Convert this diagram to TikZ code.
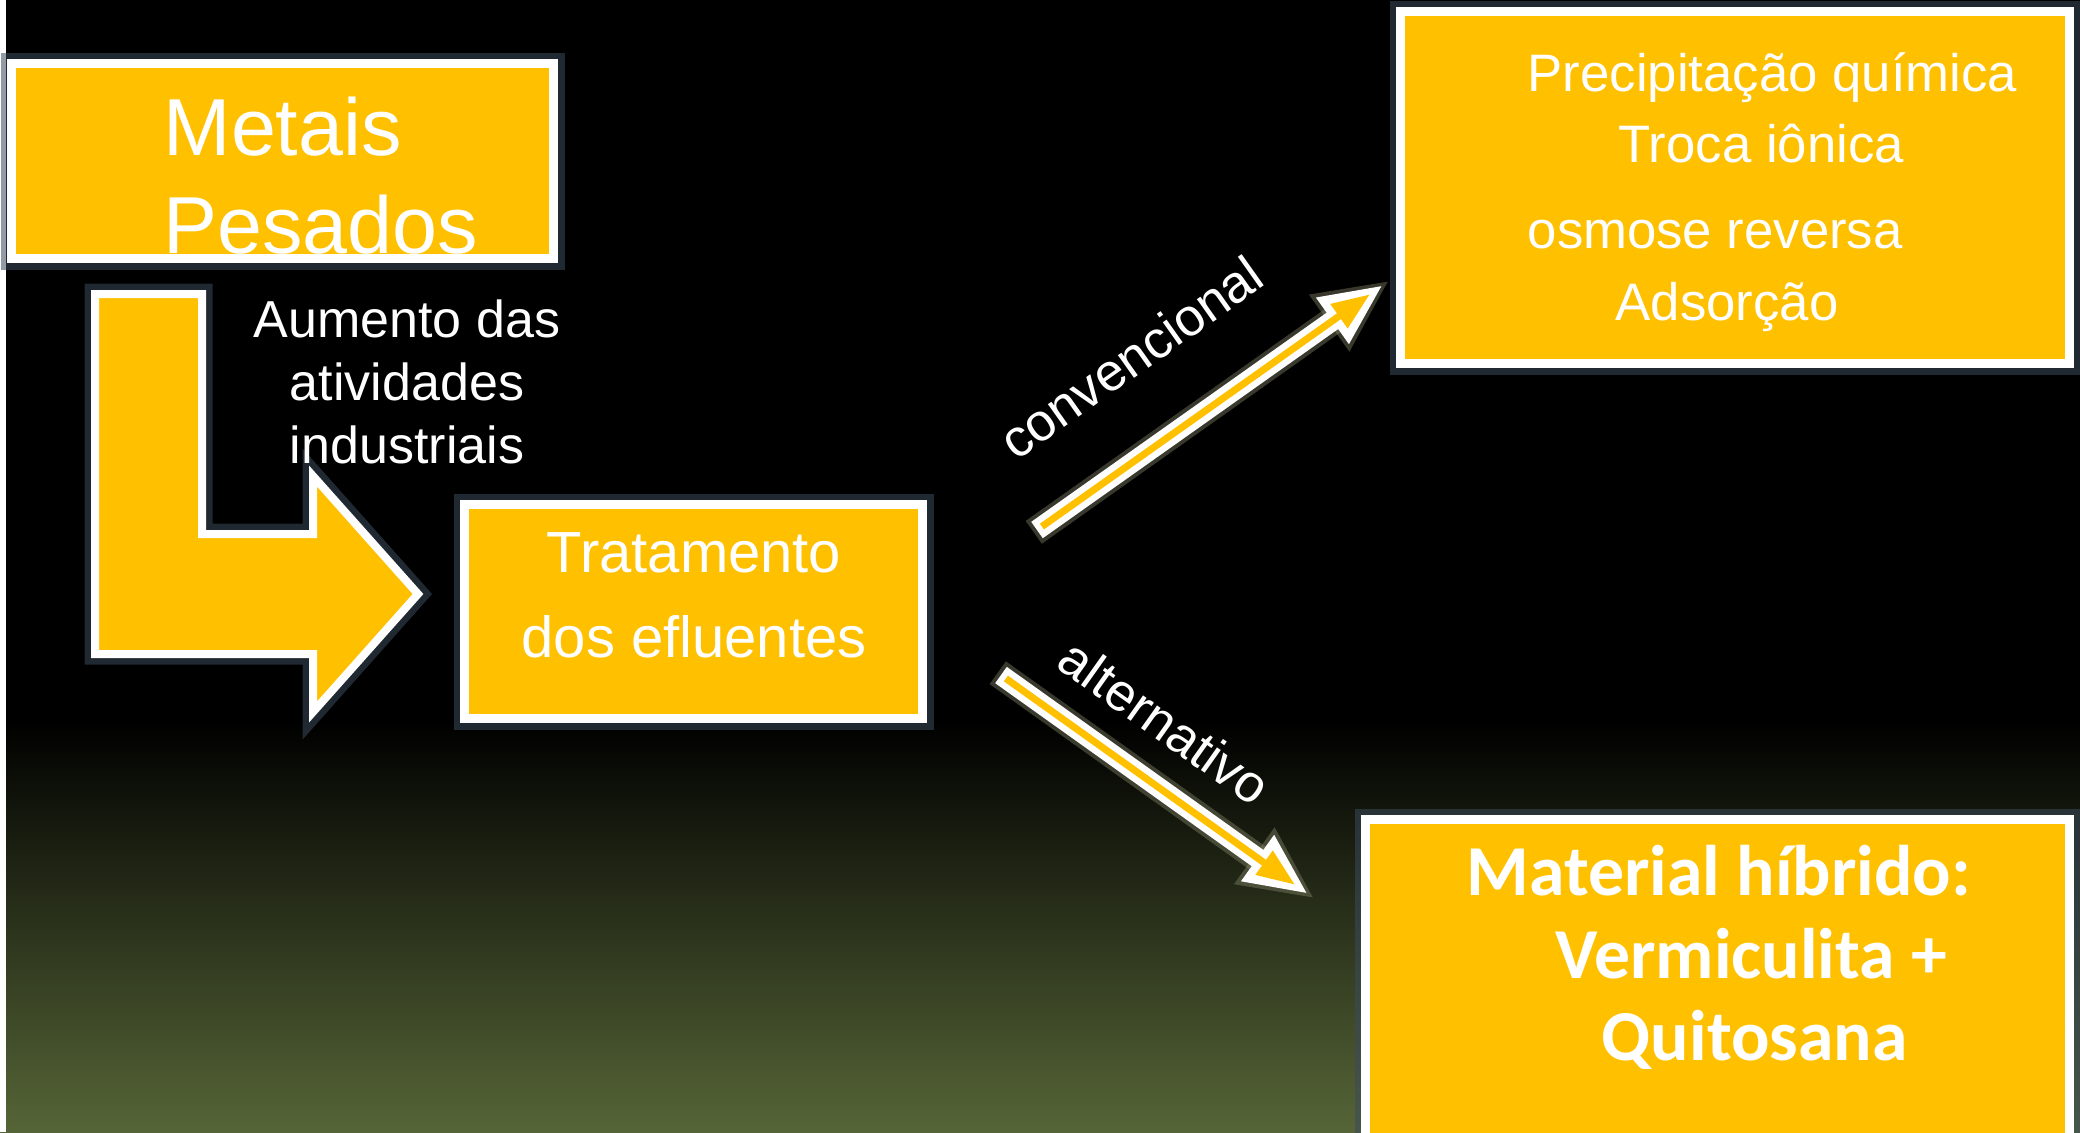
\documentclass[tikz,border=0pt]{standalone}
\usepackage{fontspec}
\setmainfont{Liberation Sans}
\newfontfamily\calibri{Carlito}
\usetikzlibrary{arrows.meta,fit}

\definecolor{gold}{HTML}{FFC000}
\definecolor{olivebg}{HTML}{566537}
\definecolor{glowblue}{HTML}{3B4A5C}
\definecolor{glowolive}{HTML}{8C8C6E}

\tikzset{
  box/.style={draw=white, fill=gold, line width=0.9mm, inner sep=0pt,
    preaction={draw=glowblue, line width=2.2mm, opacity=.55}},
  larrow/.style={draw=white, fill=gold, line width=0.8mm, line join=miter,
    preaction={draw=glowblue, line width=2.1mm, opacity=.55}},
  glowline/.style={draw=glowolive, line width=2.8mm, opacity=.4, shorten >=-0.8mm,
    shorten <=-0.4mm, -{Triangle[length=7.4mm,width=6.4mm]}},
  outline/.style={draw=white, line width=2mm,
    -{Triangle[length=6.2mm,width=5.2mm]}},
  core/.style={draw=gold, line width=0.7mm, shorten >=1.6mm, shorten <=0.6mm,
    -{Triangle[length=3.8mm,width=2.8mm]}},
  bigtxt/.style={text=white, inner sep=0pt, font=\fontsize{23}{28}\selectfont},
  midtxt/.style={text=white, inner sep=0pt, font=\fontsize{16.5}{24}\selectfont},
  smalltxt/.style={text=white, inner sep=0pt, font=\fontsize{15}{20}\selectfont},
  hybtxt/.style={text=white, inner sep=0pt, font=\calibri\bfseries\fontsize{20.4}{24}\selectfont}
}

\begin{document}
\begin{tikzpicture}[x=0.1mm, y=-0.1mm]
\path[use as bounding box] (0,0) rectangle (2080,1132);
\clip (0,0) rectangle (2080,1132);

% background
\fill[black] (0,0) rectangle (2080,725);
\shade[top color=black, bottom color=olivebg] (0,720) rectangle (2080,1132);
\fill[white] (0,0) rectangle (6,1132);

% boxes
\node[box, fit={(11.5,63.5) (553.5,258.5)}] (metais) {};
\node[box, fit={(464.5,504.5) (922.5,718.5)}] (trat) {};
\node[box, fit={(1400.5,11.5) (2069.5,363.5)}] (conv) {};
\node[box, fit={(1365.5,819.5) (2069.5,1160)}] (alt) {};

% bent arrow
\draw[larrow] (95,294) -- (202,294) -- (202,534) -- (313,534) -- (313,476)
  -- (418,594) -- (313,712) -- (313,654) -- (95,654) -- cycle;

\node[bigtxt, anchor=base west] (met1) at (163,155) {Metais};
\node[bigtxt, anchor=base west] (met2) at (163,253) {Pesados};

\node[smalltxt, font=\fontsize{14.8}{18}\selectfont, anchor=base] (aum1) at (407,337) {Aumento das};
\node[smalltxt, font=\fontsize{14.8}{18}\selectfont, anchor=base] (aum2) at (407,400) {atividades};
\node[smalltxt, font=\fontsize{14.8}{18}\selectfont, anchor=base] (aum3) at (407,463) {industriais};

\node[midtxt, anchor=base] (trat1) at (694,572) {Tratamento};
\node[midtxt, anchor=base] (trat2) at (694,657) {dos efluentes};

\node[smalltxt, anchor=base west] (conv1) at (1527,91) {Precipitação química};
\node[smalltxt, anchor=base west] (conv2) at (1618,162) {Troca iônica};
\node[smalltxt, anchor=base west] (conv3) at (1527,248) {osmose reversa};
\node[smalltxt, anchor=base west] (conv4) at (1615,320) {Adsorção};

\node[hybtxt, anchor=base west] (alt1) at (1466,895) {Material híbrido:};
\node[hybtxt, anchor=base west] (alt2) at (1555,978) {Vermiculita +};
\node[hybtxt, anchor=base west] (alt3) at (1601,1060) {Quitosana};

% connectors
\coordinate (convtail) at (1037,530);
\coordinate (convtip) at (1383,285);
\coordinate (alttail) at (1001,675);
\coordinate (alttip) at (1308,894);
\foreach \a/\b in {convtail/convtip, alttail/alttip}{
  \draw[glowline] (\a) -- (\b);
  \draw[outline] (\a) -- (\b);
  \draw[core] (\a) -- (\b);
}

\node[smalltxt, rotate=35.3] (convlab) at (1131,357) {convencional};
\node[smalltxt, rotate=-35.4] (altlab) at (1165,722) {alternativo};
\end{tikzpicture}
\end{document}
